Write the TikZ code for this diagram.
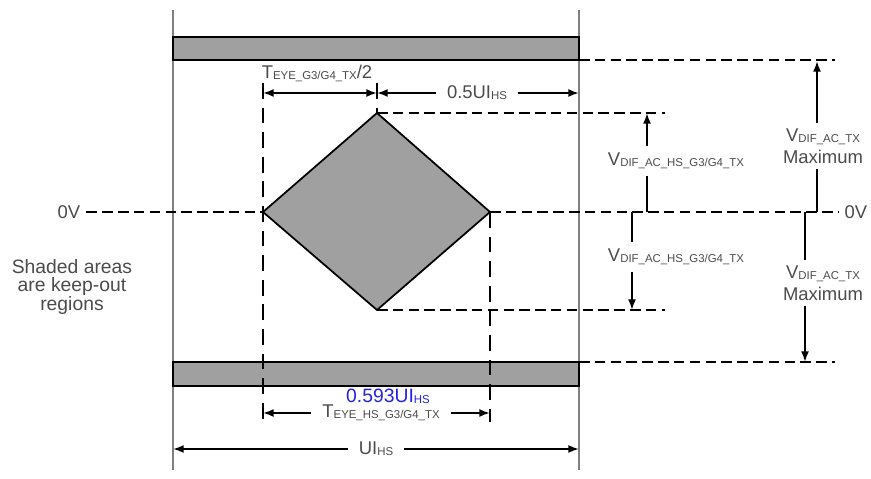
\documentclass[tikz,border=0pt]{standalone}
\usepackage{fontspec}
\setmainfont{Liberation Sans}
\usetikzlibrary{arrows.meta,positioning}
\definecolor{keepout}{RGB}{160,160,160}
\definecolor{labelgray}{RGB}{75,75,75}
\definecolor{specblue}{RGB}{35,35,225}
\newcommand{\lowsub}[1]{\raisebox{-0.1ex}{\fontsize{6.5}{7}\selectfont #1}}

\begin{document}
\begin{tikzpicture}[x=0.02cm,y=-0.02cm,
	font=\fontsize{10.5}{12.5}\selectfont, text=labelgray,
	keepbar/.style={fill=keepout, draw=black, line width=1pt},
	guide/.style={line width=1.1pt, dash pattern=on 6pt off 3pt},
	longguide/.style={line width=1.1pt, dash pattern=on 9pt off 5pt},
	dim/.style={line width=1.1pt, -{Latex[length=6pt,width=4.5pt]}},
	dimboth/.style={line width=1.1pt, {Latex[length=6pt,width=4.5pt]}-{Latex[length=6pt,width=4.5pt]}},
	gaplabel/.style={inner sep=6pt}]
	\useasboundingbox (0,0) rectangle (871,479);

	% unit interval borders
	\coordinate (uiTL) at (173,10);
	\coordinate (uiBL) at (173,470);
	\coordinate (uiTR) at (579,10);
	\coordinate (uiBR) at (579,470);
	\draw[gray, line width=1pt] (uiTL) -- (uiBL);
	\draw[gray, line width=1pt] (uiTR) -- (uiBR);

	% keep-out bars and eye mask
	\draw[keepbar] (173,37) rectangle (579,60);
	\draw[keepbar] (173,362) rectangle (579,386);
	\coordinate (eyeL) at (263,212);
	\coordinate (eyeT) at (377,113);
	\coordinate (eyeR) at (490,212);
	\coordinate (eyeB) at (377,310);
	\draw[keepbar] (eyeL) -- (eyeT) -- (eyeR) -- (eyeB) -- cycle;

	% 0V reference
	\node (zeroL) at (69,212) {0V};
	\node (zeroR) at (856,212) {0V};
	\draw[guide] (zeroL.east) -- (eyeL);
	\draw[guide] (eyeR) -- (zeroR.west);

	% level guides
	\coordinate (topbarR) at (579,60);
	\coordinate (topEnd) at (835,60);
	\coordinate (botbarR) at (579,362);
	\coordinate (botEnd) at (835,362);
	\coordinate (peakEnd) at (665,113);
	\coordinate (troughEnd) at (665,310);
	\draw[guide] (topbarR) -- (topEnd);
	\draw[guide] (botbarR) -- (botEnd);
	\draw[guide] (eyeT) -- (peakEnd);
	\draw[guide] (eyeB) -- (troughEnd);

	% time guides
	\coordinate (eyeLtop) at (263,83);
	\coordinate (eyeLbot) at (263,422);
	\coordinate (eyeRbot) at (490,422);
	\coordinate (eyeTtop) at (377,83);
	\draw[longguide] (eyeLtop) -- (eyeLbot);
	\draw[longguide] (eyeR) -- (eyeRbot);
	\draw[longguide] (eyeTtop) -- (eyeT);

	% half eye width
	\coordinate (halfL) at (263,93);
	\coordinate (halfM) at (377,93);
	\coordinate (halfR) at (579,93);
	\draw[dimboth] (halfL) -- (halfM);
	\node (teyehalf) at (317,73) {T\lowsub{EYE\_G3/G4\_TX}/2};
	\node[gaplabel] (halfui) at (477,93) {0.5UI\lowsub{HS}};
	\draw[dim] (halfui.west) -- (halfM);
	\draw[dim] (halfui.east) -- (halfR);

	% differential amplitude, eye
	\node[inner sep=4pt] (vhsup) at (676,161) {V\lowsub{DIF\_AC\_HS\_G3/G4\_TX}};
	\coordinate (vhsupTip) at (647,113);
	\coordinate (vhsupBase) at (647,212);
	\draw[dim] (vhsup.north -| vhsupTip) -- (vhsupTip);
	\draw[line width=1.1pt] (vhsup.south -| vhsupBase) -- (vhsupBase);

	\node[inner sep=4pt] (vhsdn) at (676,257) {V\lowsub{DIF\_AC\_HS\_G3/G4\_TX}};
	\coordinate (vhsdnBase) at (632,212);
	\coordinate (vhsdnTip) at (632,310);
	\draw[line width=1.1pt] (vhsdnBase) -- (vhsdn.north -| vhsdnBase);
	\draw[dim] (vhsdn.south -| vhsdnTip) -- (vhsdnTip);

	% differential amplitude, maximum
	\node[align=center, inner sep=3pt] (vmaxup) at (823,146) {V\lowsub{DIF\_AC\_TX}\\Maximum};
	\coordinate (vmaxupTip) at (817,61);
	\coordinate (vmaxupBase) at (817,212);
	\draw[dim] (vmaxup.north -| vmaxupTip) -- (vmaxupTip);
	\draw[line width=1.1pt] (vmaxup.south -| vmaxupBase) -- (vmaxupBase);

	\node[align=center, inner sep=3pt] (vmaxdn) at (823,283) {V\lowsub{DIF\_AC\_TX}\\Maximum};
	\coordinate (vmaxdnBase) at (805,212);
	\coordinate (vmaxdnTip) at (805,362);
	\draw[line width=1.1pt] (vmaxdnBase) -- (vmaxdn.north -| vmaxdnBase);
	\draw[dim] (vmaxdn.south -| vmaxdnTip) -- (vmaxdnTip);

	% eye width and unit interval
	\node[text=specblue, font=\fontsize{11}{13}\selectfont, inner sep=1pt] (eyeval) at (388,396) {0.593UI\lowsub{HS}};
	\node[gaplabel] (teyehs) at (381,413) {T\lowsub{EYE\_HS\_G3/G4\_TX}};
	\coordinate (teyeL) at (263,413);
	\coordinate (teyeR) at (490,413);
	\draw[dim] (teyehs.west) -- (teyeL);
	\draw[dim] (teyehs.east) -- (teyeR);

	\node[gaplabel] (uihs) at (376,449) {UI\lowsub{HS}};
	\coordinate (uiL) at (173,449);
	\coordinate (uiR) at (579,449);
	\draw[dim] (uihs.west) -- (uiL);
	\draw[dim] (uihs.east) -- (uiR);

	% note
	\node[align=center, font=\fontsize{11}{10.8}\selectfont] (note) at (72,287) {Shaded areas\\are keep-out\\regions};
\end{tikzpicture}
\end{document}
